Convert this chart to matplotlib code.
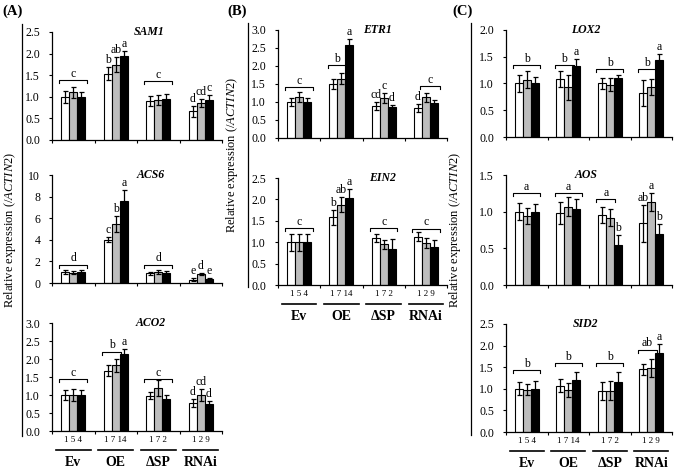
import matplotlib
matplotlib.use('Agg')
import matplotlib.pyplot as plt
from matplotlib.lines import Line2D
from matplotlib.transforms import blended_transform_factory, ScaledTranslation
import numpy as np

plt.rcParams['font.family'] = ['Liberation Serif', 'DejaVu Serif']
plt.rcParams['mathtext.fontset'] = 'custom'
plt.rcParams['mathtext.rm'] = 'Liberation Serif'
plt.rcParams['mathtext.it'] = 'Liberation Serif:italic'
plt.rcParams['mathtext.bf'] = 'Liberation Serif:bold'

# ---------------- data ----------------
groups = ['Ev', 'OE', 'ΔSP', 'RNAi']
line_ids = ['1 5 4', '1 7 14', '1 7 2', '1 2 9']
ylabel = r'Relative expression (/$\mathit{ACTIN2}$)'

# each row = group (Ev, OE, ΔSP, RNAi); columns = three lines
sam1_mean = [[1.00, 1.10, 1.00], [1.53, 1.74, 1.95], [0.90, 0.93, 0.96], [0.66, 0.86, 0.92]]
sam1_err = [[0.14, 0.13, 0.10], [0.15, 0.17, 0.10], [0.12, 0.12, 0.10], [0.13, 0.10, 0.13]]
sam1_marks = [(0, 0, 2, 'c', 1.38), (1, 0, 0, 'b', None), (1, 1, 1, 'ab', None), (1, 2, 2, 'a', None),
              (2, 0, 2, 'c', 1.36), (3, 0, 0, 'd', None), (3, 1, 1, 'cd', None), (3, 2, 2, 'c', None)]

acs6_mean = [[1.00, 0.95, 1.02], [4.02, 5.48, 7.63], [0.88, 1.05, 0.95], [0.30, 0.82, 0.35]]
acs6_err = [[0.18, 0.15, 0.18], [0.20, 0.75, 1.00], [0.18, 0.18, 0.12], [0.12, 0.10, 0.10]]
acs6_marks = [(0, 0, 2, 'd', 1.7), (1, 0, 0, 'c', None), (1, 1, 1, 'b', None), (1, 2, 2, 'a', None),
              (2, 0, 2, 'd', 1.7), (3, 0, 0, 'e', None), (3, 1, 1, 'd', None), (3, 2, 2, 'e', None)]

aco2_mean = [[1.00, 1.00, 1.00], [1.68, 1.82, 2.13], [0.98, 1.20, 0.88], [0.78, 1.00, 0.74]]
aco2_err = [[0.13, 0.17, 0.13], [0.14, 0.17, 0.14], [0.10, 0.22, 0.12], [0.10, 0.17, 0.10]]
aco2_marks = [(0, 0, 2, 'c', 1.44), (1, 0, 1, 'b', 2.2), (1, 2, 2, 'a', None),
              (2, 0, 2, 'c', 1.44), (3, 0, 0, 'd', None), (3, 1, 1, 'cd', None), (3, 2, 2, 'd', None)]

etr1_mean = [[1.00, 1.13, 1.00], [1.50, 1.65, 2.58], [0.88, 1.10, 0.85], [0.83, 1.13, 0.98]]
etr1_err = [[0.12, 0.14, 0.10], [0.14, 0.16, 0.16], [0.11, 0.14, 0.08], [0.12, 0.13, 0.08]]
etr1_marks = [(0, 0, 2, 'c', 1.41), (1, 0, 1, 'b', 2.02), (1, 2, 2, 'a', None),
              (2, 0, 0, 'cd', None), (2, 1, 1, 'c', None), (2, 2, 2, 'd', None),
              (3, 0, 0, 'd', None), (3, 1, 2, 'c', 1.44)]

ein2_mean = [[1.00, 1.00, 1.00], [1.58, 1.88, 2.03], [1.10, 0.95, 0.85], [1.13, 0.98, 0.88]]
ein2_err = [[0.20, 0.20, 0.20], [0.18, 0.18, 0.22], [0.10, 0.10, 0.23], [0.10, 0.12, 0.18]]
ein2_marks = [(0, 0, 2, 'c', 1.33), (1, 0, 0, 'b', None), (1, 1, 1, 'ab', None), (1, 2, 2, 'a', None),
              (2, 0, 2, 'c', 1.33), (3, 0, 2, 'c', 1.31)]

lox2_mean = [[1.00, 1.07, 1.00], [1.08, 0.93, 1.33], [1.00, 0.98, 1.11], [0.82, 0.93, 1.43]]
lox2_err = [[0.15, 0.16, 0.12], [0.15, 0.23, 0.12], [0.10, 0.12, 0.05], [0.24, 0.15, 0.12]]
lox2_marks = [(0, 0, 2, 'b', 1.34), (1, 0, 1, 'b', 1.34), (1, 2, 2, 'a', None),
              (2, 0, 2, 'b', 1.27), (3, 0, 1, 'b', 1.27), (3, 2, 2, 'a', None)]

aos_mean = [[1.00, 0.94, 1.00], [0.98, 1.07, 1.03], [0.96, 0.92, 0.55], [0.84, 1.13, 0.69]]
aos_err = [[0.12, 0.11, 0.10], [0.15, 0.13, 0.14], [0.11, 0.12, 0.13], [0.25, 0.12, 0.14]]
aos_marks = [(0, 0, 2, 'a', 1.25), (1, 0, 2, 'a', 1.25), (2, 0, 1, 'a', 1.17), (2, 2, 2, 'b', None),
             (3, 0, 0, 'ab', None), (3, 1, 1, 'a', None), (3, 2, 2, 'b', None)]

sid2_mean = [[1.00, 0.98, 1.00], [1.07, 0.98, 1.20], [0.95, 0.95, 1.15], [1.45, 1.48, 1.82]]
sid2_err = [[0.15, 0.13, 0.18], [0.15, 0.16, 0.18], [0.20, 0.22, 0.25], [0.12, 0.20, 0.22]]
sid2_marks = [(0, 0, 2, 'b', 1.43), (1, 0, 2, 'b', 1.59), (2, 0, 2, 'b', 1.59),
              (3, 0, 1, 'ab', 1.9), (3, 2, 2, 'a', None)]

# ---------------- figure ----------------
W, H = 675, 469
fig = plt.figure(figsize=(W / 100, H / 100), dpi=100)
fig.patch.set_facecolor('white')

BAR_W = 0.19
OFFS = [-0.19, 0.0, 0.19]
COLORS = ['white', '#bdbdbd', 'black']


def make_ax(l, t, r, b):
    return fig.add_axes([l / W, 1 - b / H, (r - l) / W, (b - t) / H])


def draw(ax, mean, err, marks, ymax, ystep, fmt, title, tx, bottom):
    mean = np.asarray(mean, float)
    err = np.asarray(err, float)
    x = np.arange(len(groups))
    for j in range(3):
        ax.bar(x + OFFS[j], mean[:, j], BAR_W, yerr=err[:, j], color=COLORS[j],
               edgecolor='black', linewidth=0.8, zorder=2,
               error_kw=dict(ecolor='black', elinewidth=0.9, capsize=1.8, capthick=0.9, zorder=3))
    ax.set_xlim(-0.5, len(groups) - 0.5)
    ax.set_ylim(0, ymax)
    ax.set_yticks(np.arange(0, ymax + ystep / 2, ystep))
    ax.set_yticklabels([fmt.format(v) for v in np.arange(0, ymax + ystep / 2, ystep)])
    ax.set_xticks(np.arange(-0.5, len(groups), 1.0))
    ax.set_xticklabels([])
    for s in ['top', 'right']:
        ax.spines[s].set_visible(False)
    for s in ['left', 'bottom']:
        ax.spines[s].set_linewidth(0.9)
    ax.tick_params(axis='y', direction='out', length=2.5, width=0.8, labelsize=8.5, pad=6)
    ax.tick_params(axis='x', direction='out', length=2.5, width=0.8)
    ax.set_facecolor('none')

    # px -> data units
    hpx = ax.get_position().height * H
    upp = ymax / hpx
    tip = 3 * upp
    for g, a, b, letter, level in marks:
        if level is None:
            top = mean[g, a] + err[g, a]
            ax.text(g + OFFS[a], top + 1.0 * upp, letter, ha='center', va='bottom', fontsize=8.5)
        else:
            x0 = g + OFFS[a] - BAR_W / 2 - 0.04
            x1 = g + OFFS[b] + BAR_W / 2 + 0.04
            ax.plot([x0, x0, x1, x1], [level - tip, level, level, level - tip],
                    color='black', lw=0.8, clip_on=False)
            ax.text((x0 + x1) / 2, level + 0.5 * upp, letter, ha='center', va='bottom', fontsize=8.5)

    ax.text(tx, 1.0, title, transform=ax.transAxes, ha='center', va='center',
            fontsize=8.5, fontstyle='italic', fontweight='bold')

    if bottom:
        trans = blended_transform_factory(ax.transData, ax.transAxes)
        for i in range(len(groups)):
            ax.annotate(line_ids[i], xy=(i, 0), xycoords=trans, xytext=(0, -6.2),
                        textcoords='offset points', ha='center', va='center', fontsize=6.5)
            ax.annotate(groups[i], xy=(i, 0), xycoords=trans, xytext=(0, -22.5),
                        textcoords='offset points', ha='center', va='center',
                        fontsize=10, fontweight='bold')
            ul = Line2D([i - 0.41, i + 0.41], [0, 0],
                        transform=trans + ScaledTranslation(0, -13.5 / 72, fig.dpi_scale_trans),
                        color='black', lw=1.2, clip_on=False)
            ax.add_line(ul)


# Panel A
axA1 = make_ax(52, 32, 222, 140)
draw(axA1, sam1_mean, sam1_err, sam1_marks, 2.5, 0.5, '{:.1f}', 'SAM1', 0.57, False)
axA2 = make_ax(52, 175, 222, 283)
draw(axA2, acs6_mean, acs6_err, acs6_marks, 10, 2, '{:.0f}', 'ACS6', 0.58, False)
axA3 = make_ax(52, 323, 222, 431)
draw(axA3, aco2_mean, aco2_err, aco2_marks, 3.0, 0.5, '{:.1f}', 'ACO2', 0.58, True)

# Panel B
axB1 = make_ax(278, 30, 447, 138)
draw(axB1, etr1_mean, etr1_err, etr1_marks, 3.0, 0.5, '{:.1f}', 'ETR1', 0.59, False)
axB2 = make_ax(278, 178, 447, 285)
draw(axB2, ein2_mean, ein2_err, ein2_marks, 2.5, 0.5, '{:.1f}', 'EIN2', 0.62, True)

# Panel C
axC1 = make_ax(506, 30, 672, 137)
draw(axC1, lox2_mean, lox2_err, lox2_marks, 2.0, 0.5, '{:.1f}', 'LOX2', 0.48, False)
axC2 = make_ax(506, 175, 672, 285)
draw(axC2, aos_mean, aos_err, aos_marks, 1.5, 0.5, '{:.1f}', 'AOS', 0.48, False)
axC3 = make_ax(506, 324, 672, 432)
draw(axC3, sid2_mean, sid2_err, sid2_marks, 2.5, 0.5, '{:.1f}', 'SID2', 0.48, True)

# panel letters, y labels, long vertical lines
for lab, lx in [('(A)', 2), ('(B)', 227), ('(C)', 452)]:
    fig.text(lx / W, 1 - 11 / H, lab, ha='left', va='center', fontsize=10.5, fontweight='bold')

for vx, y0, y1, lbx, lby in [(22, 24, 436, 10, 230), (248, 23, 287, 232, 155), (471, 23, 435, 455, 230)]:
    fig.add_artist(Line2D([vx / W, vx / W], [1 - y0 / H, 1 - y1 / H], transform=fig.transFigure,
                          color='black', lw=0.9))
    fig.text(lbx / W, 1 - lby / H, ylabel, rotation=90, ha='center', va='center', fontsize=9)

fig.savefig('out.png', dpi=100, facecolor='white')
